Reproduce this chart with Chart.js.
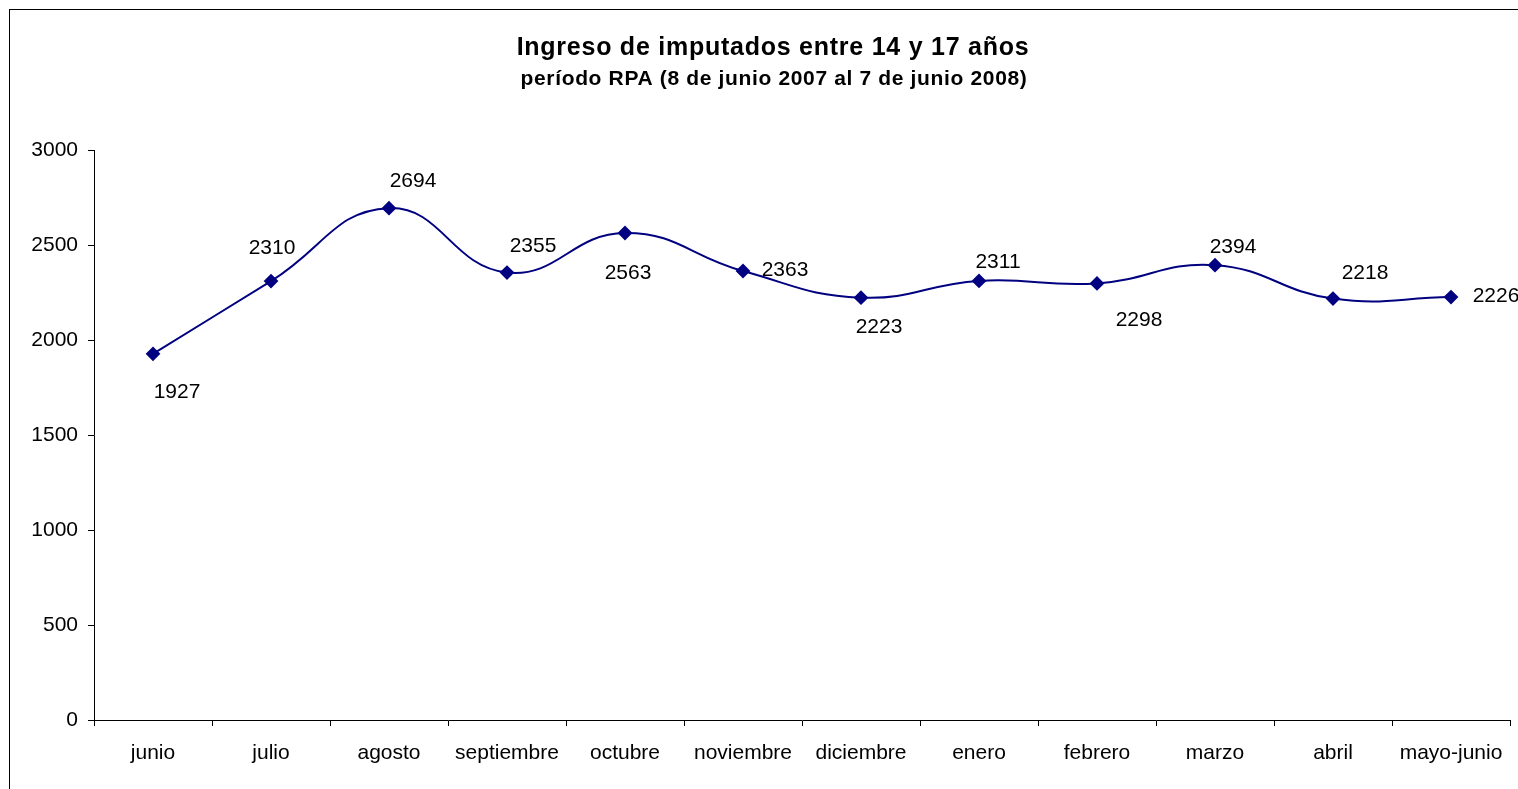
<!DOCTYPE html>
<html>
<head>
<meta charset="utf-8">
<script src="https://cdn.jsdelivr.net/npm/chart.js@4/dist/chart.umd.min.js"></script>
<style>
html,body{margin:0;padding:0;background:#fff;overflow:hidden;}
#wrap{width:1518px;height:789px;position:relative;}
</style>
</head>
<body>
<div id="wrap"><canvas id="c" width="1518" height="789"></canvas></div>
<script>
const categories = ["junio","julio","agosto","septiembre","octubre","noviembre","diciembre","enero","febrero","marzo","abril","mayo-junio"];
const ingresos = [1927, 2310, 2694, 2355, 2563, 2363, 2223, 2311, 2298, 2394, 2218, 2226];
const yTicks = [0, 500, 1000, 1500, 2000, 2500, 3000];
const titleText = "Ingreso de imputados entre 14 y 17 años";
const subtitleText = "período RPA (8 de junio 2007 al 7 de junio 2008)";

const FONT = "'Liberation Sans', Arial, sans-serif";
// label offsets relative to each marker (style only)
const labelOffsets = [[24,38],[1,-33],[24,-27],[26,-26],[3,40],[42,-1],[18,30],[19,-19],[42,37],[18,-18],[32,-25],[45,-1]];

const decorPlugin = {
  id: 'decor',
  beforeDraw(chart) {
    const ctx = chart.ctx;
    ctx.save();
    ctx.fillStyle = '#fff';
    ctx.fillRect(0, 0, chart.width, chart.height);
    ctx.strokeStyle = '#000';
    ctx.lineWidth = 1;
    ctx.strokeRect(9.5, 9.5, 1530, 800);
    ctx.fillStyle = '#000';
    ctx.textAlign = 'center';
    ctx.textBaseline = 'middle';
    ctx.font = "bold 25px " + FONT;
    ctx.letterSpacing = "0.75px";
    ctx.fillText(titleText, 773, 48);
    ctx.font = "bold 21px " + FONT;
    ctx.letterSpacing = "0.65px";
    ctx.fillText(subtitleText, 774, 79);
    ctx.letterSpacing = "0px";
    ctx.restore();
  },
  afterDatasetsDraw(chart) {
    const ctx = chart.ctx;
    const meta = chart.getDatasetMeta(0);
    ctx.save();
    ctx.fillStyle = '#000';
    ctx.font = "21px " + FONT;
    ctx.textAlign = 'center';
    ctx.textBaseline = 'middle';
    meta.data.forEach((pt, i) => {
      const off = labelOffsets[i];
      ctx.fillText(String(chart.data.datasets[0].data[i]), pt.x + off[0], pt.y + off[1]);
    });
    ctx.restore();
  }
};

new Chart(document.getElementById('c'), {
  type: 'line',
  data: {
    labels: categories,
    datasets: [{
      data: ingresos,
      borderColor: '#000080',
      backgroundColor: '#000080',
      borderWidth: 2,
      tension: 0.45,
      pointStyle: 'rectRot',
      pointRadius: 6,
      pointHoverRadius: 6,
      pointBackgroundColor: '#000080',
      pointBorderColor: '#000080',
      fill: false
    }]
  },
  options: {
    responsive: false,
    animation: false,
    events: [],
    layout: { padding: { left: 0, right: 6, top: 150, bottom: 0 } },
    plugins: { legend: { display: false }, tooltip: { enabled: false }, title: { display: false } },
    scales: {
      x: {
        type: 'category',
        offset: true,
        afterFit(scale) { scale.height = 69; },
        grid: { display: true, offset: true, drawOnChartArea: false, drawTicks: true, tickLength: 6, color: '#000', tickColor: '#000' },
        border: { display: true, color: '#000', width: 1 },
        ticks: { color: '#000', font: { family: FONT, size: 21 }, padding: 15, maxRotation: 0, autoSkip: false }
      },
      y: {
        min: 0,
        max: 3000,
        afterFit(scale) { scale.width = 94; },
        afterBuildTicks(scale) { scale.ticks = yTicks.map(v => ({ value: v })); },
        grid: { display: true, drawOnChartArea: false, drawTicks: true, tickLength: 6, color: '#000', tickColor: '#000' },
        border: { display: true, color: '#000', width: 1 },
        ticks: { color: '#000', font: { family: FONT, size: 21 }, padding: 10, callback: (v) => String(v) }
      }
    }
  },
  plugins: [decorPlugin]
});
</script>
</body>
</html>
